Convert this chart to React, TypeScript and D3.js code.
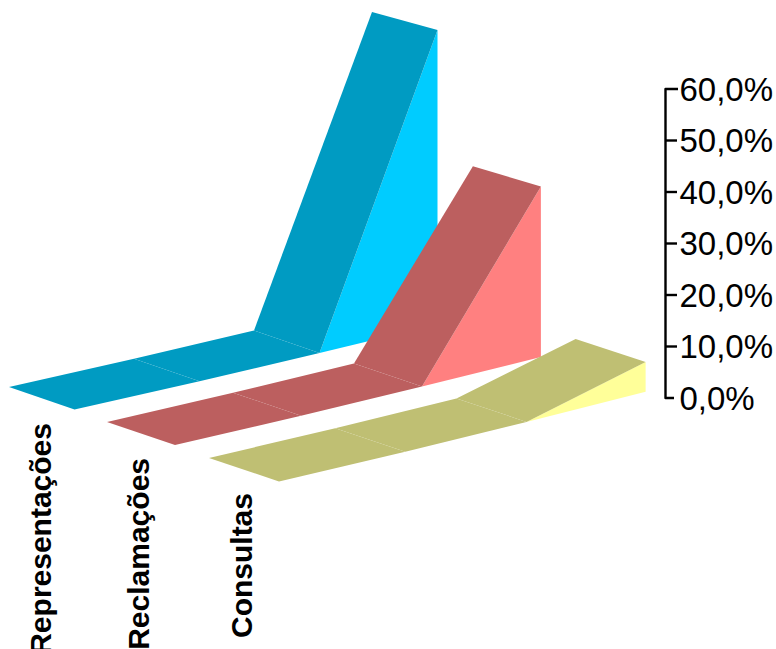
import React from "react";
import * as d3 from "d3";

const seriesNames = ["Representações", "Reclamações", "Consultas"];
const representacoes = [0, 0, 0, 56.3];
const reclamacoes = [0, 0, 0, 32.6];
const consultas = [0, 0, 0, 5.7];
const seriesValues = [representacoes, reclamacoes, consultas];
const tickValues = [0, 10, 20, 30, 40, 50, 60];
const formatTick = (v: number) => v.toFixed(1).replace(".", ",") + "%";

const topColors = ["#009BC2", "#BC5F5F", "#BFBF73"];
const sideColors = ["#00CCFF", "#FF8080", "#FFFF99"];

// oblique projection with a slight perspective on depth
const W = 776, H = 649;
const seriesX = d3.scaleLinear().domain([0, 1, 2]).range([9, 107, 209]);
const seriesY = d3.scaleLinear().domain([0, 1, 2]).range([387, 422, 458]);
const depthX = d3.scaleLinear().domain([0, 1, 2]).range([65.5, 68, 70]);
const depthY = d3.scaleLinear().domain([0, 1, 2]).range([22.5, 23, 23.5]);
const spreadX = d3.scaleLinear().domain([0, 1, 2]).range([1, 1.008, 1.01]);
const spreadY = d3.scaleLinear().domain([0, 1, 2]).range([1, 1.035, 1.055]);
const catX = d3.scaleLinear().domain([0, 1, 2, 3]).range([0, 125, 245, 363]);
const catY = d3.scaleLinear().domain([0, 1, 2, 3]).range([0, -28.3, -56.5, -85]);
const valueY = d3.scaleLinear().domain([0, 60]).range([398, 89]);
const valueH = (v: number) => valueY(0) - valueY(v);
const foreshorten = d3.scaleLinear().domain([0, 60]).range([1, 0.79]);

const project = (s: number, c: number, depth: number, v: number): [number, number] => [
  seriesX(s) + catX(c) * spreadX(s) + depth * depthX(s),
  seriesY(s) + catY(c) * spreadY(s) + depth * depthY(s) * foreshorten(v) - valueH(v),
];

const poly = d3.line().curve(d3.curveLinearClosed);

const labelX = [50.5, 149, 252];
const labelTop = [423, 458, 493];

export default function App() {
  return (
    <svg
      width={W}
      height={H}
      viewBox={`0 0 ${W} ${H}`}
      style={{ position: "absolute", left: 0, top: 0, display: "block", background: "#fff" }}
    >
      {seriesValues.map((vals, s) => {
        const last = vals.length - 1;
        return (
          <g key={seriesNames[s]}>
            <path
              d={poly([
                project(s, last - 1, 1, vals[last - 1]),
                project(s, last, 1, vals[last]),
                project(s, last, 1, 0),
                project(s, last - 1, 1, 0),
              ])!}
              fill={sideColors[s]}
            />
            {vals.slice(0, -1).map((v, c) => (
              <path
                key={c}
                d={poly([
                  project(s, c, 0, v),
                  project(s, c + 1, 0, vals[c + 1]),
                  project(s, c + 1, 1, vals[c + 1]),
                  project(s, c, 1, v),
                ])!}
                fill={topColors[s]}
              />
            ))}
          </g>
        );
      })}
      <g stroke="#000" strokeWidth={2.4} fill="none">
        <path
          d={`M678,${valueY(60)}H665.5V${valueY(0)}H674`}
          strokeLinejoin="round"
        />
        {tickValues.slice(1, -1).map((t) => (
          <line key={t} x1={665.5} x2={677} y1={valueY(t)} y2={valueY(t)} />
        ))}
      </g>
      <g fontFamily="'Liberation Sans', Arial, sans-serif" fontSize={33} fill="#000">
        {tickValues.map((t) => (
          <text key={t} x={679.5} y={valueY(t)} dy="0.36em">
            {formatTick(t)}
          </text>
        ))}
      </g>
      <g fontFamily="'Liberation Sans', Arial, sans-serif" fontSize={30} fontWeight="bold" fill="#000">
        {seriesNames.map((n, s) => (
          <text
            key={n}
            textAnchor="end"
            transform={`translate(${labelX[s]},${labelTop[s]}) rotate(-90)`}
          >
            {n}
          </text>
        ))}
      </g>
    </svg>
  );
}
